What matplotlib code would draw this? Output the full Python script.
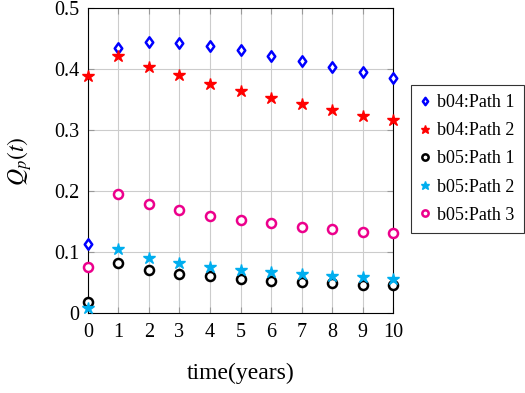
import matplotlib
matplotlib.use("Agg")
import matplotlib.pyplot as plt
from matplotlib.path import Path

years = list(range(0, 11))
b04_path1 = [0.113, 0.435, 0.444, 0.443, 0.438, 0.431, 0.422, 0.413, 0.404, 0.396, 0.386]
b04_path2 = [0.389, 0.422, 0.404, 0.390, 0.376, 0.364, 0.353, 0.343, 0.333, 0.324, 0.316]
b05_path1 = [0.018, 0.082, 0.072, 0.065, 0.061, 0.057, 0.054, 0.052, 0.050, 0.047, 0.046]
b05_path2 = [0.0085, 0.105, 0.091, 0.082, 0.076, 0.072, 0.068, 0.065, 0.061, 0.059, 0.056]
b05_path3 = [0.076, 0.196, 0.180, 0.169, 0.160, 0.153, 0.148, 0.142, 0.138, 0.134, 0.131]
labels = ["b04:Path 1", "b04:Path 2", "b05:Path 1", "b05:Path 2", "b05:Path 3"]
yticks = [0, 0.1, 0.2, 0.3, 0.4, 0.5]
ytick_labels = ["0", "0.1", "0.2", "0.3", "0.4", "0.5"]

plt.rcParams['font.family'] = ['Liberation Serif', 'DejaVu Serif']
plt.rcParams['mathtext.fontset'] = 'stix'

fig = plt.figure(figsize=(5.25, 3.93), dpi=100)
ax = fig.add_axes([0.1676, 0.2023, 0.581, 0.7773])

blue = '#0000FF'
red = '#FF0000'
cyan = '#00AEEF'
magenta = '#EC008C'

diamond = Path([(0, 1), (0.72, 0), (0, -1), (-0.72, 0), (0, 1)],
               [Path.MOVETO, Path.LINETO, Path.LINETO, Path.LINETO, Path.CLOSEPOLY])

ax.plot(years, b04_path1, linestyle='none', marker=diamond, markersize=7.5, markerfacecolor='white',
        markeredgecolor=blue, markeredgewidth=1.8, label=labels[0], clip_on=False, zorder=3)
ax.plot(years, b04_path2, linestyle='none', marker='*', markersize=9, color=red,
        label=labels[1], clip_on=False, zorder=3)
ax.plot(years, b05_path1, linestyle='none', marker='o', markersize=6.5, markerfacecolor='white',
        markeredgecolor='black', markeredgewidth=1.8, label=labels[2], clip_on=False, zorder=3)
ax.plot(years, b05_path2, linestyle='none', marker='*', markersize=9, color=cyan,
        label=labels[3], clip_on=False, zorder=3)
ax.plot(years, b05_path3, linestyle='none', marker='o', markersize=6.5, markerfacecolor='white',
        markeredgecolor=magenta, markeredgewidth=1.8, label=labels[4], clip_on=False, zorder=3)

ax.set_xlim(0, 10)
ax.set_ylim(0, 0.5)
ax.set_xticks(years)
ax.set_yticks(yticks)
ax.set_yticklabels(ytick_labels)
ax.tick_params(labelsize=14.5, direction='in', length=4, color='#999999', top=True, right=True)
ax.tick_params(axis='x', pad=7)
ax.tick_params(axis='y', pad=6)
ax.grid(True, color='#CCCCCC', linewidth=0.8)
ax.set_axisbelow(True)
for s in ax.spines.values():
    s.set_linewidth(0.8)
    s.set_color('black')

ax.set_xlabel("time(years)", fontsize=17, labelpad=15)
ax.set_ylabel(r"$Q_p(t)$", fontsize=17, labelpad=15)

leg = fig.legend(loc='upper left', bbox_to_anchor=(411/525, 1 - 85/393), fontsize=13,
                 frameon=True, fancybox=False, edgecolor='black', handlelength=0.6,
                 handletextpad=0.35, borderpad=0.5, borderaxespad=0, labelspacing=0.62,
                 markerscale=0.7)
leg.get_frame().set_linewidth(0.8)

fig.savefig("out.png", dpi=100)
